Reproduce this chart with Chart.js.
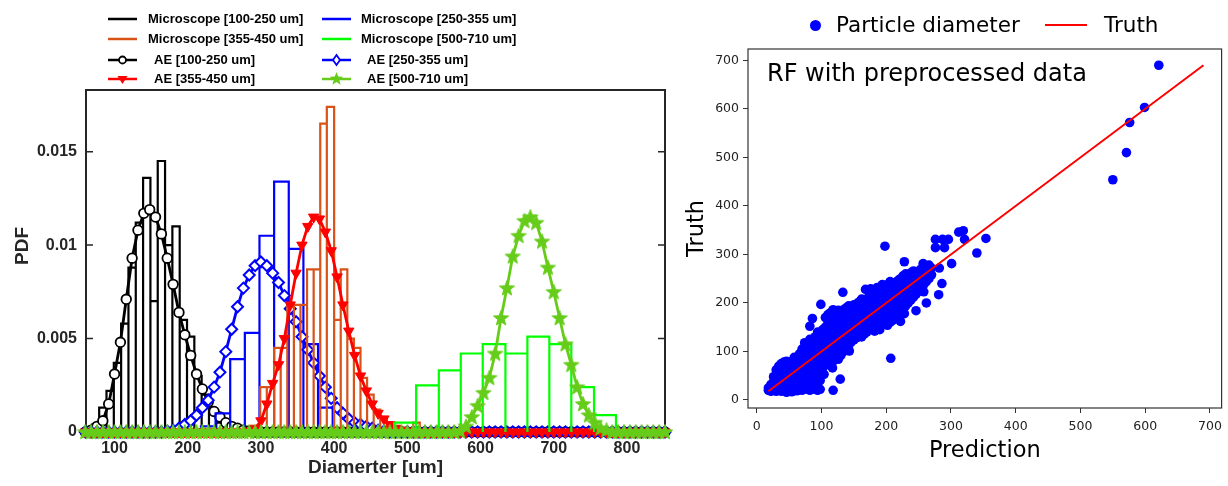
<!DOCTYPE html>
<html>
<head>
<meta charset="utf-8">
<script src="https://cdn.jsdelivr.net/npm/chart.js@4.4.1/dist/chart.umd.min.js"></script>
<style>
html,body{margin:0;padding:0;background:#fff;overflow:hidden;}
#wrap{position:relative;width:1228px;height:486px;overflow:hidden;background:#fff;}
canvas{position:absolute;top:0;}
#c1{left:0;}
#c2{left:680px;}
.lbl{position:absolute;white-space:nowrap;}
.lgL{position:absolute;font-family:"Liberation Sans",Arial,sans-serif;font-weight:bold;font-size:13px;line-height:16px;color:#000;white-space:nowrap;}
.mpl{font-family:"DejaVu Sans",sans-serif;color:#000;}
</style>
</head>
<body>
<div id="wrap">
<canvas id="c1" width="680" height="486"></canvas>
<canvas id="c2" width="548" height="486"></canvas>
<div id="legL"></div>
<div class="lbl" style="left:22px;top:246px;transform:translate(-50%,-50%) rotate(-90deg);font:bold 19px 'Liberation Sans',Arial,sans-serif;color:#262626;">PDF</div>
<div class="lbl mpl" style="left:767px;top:59px;font-size:24px;line-height:28px;">RF with preprocessed data</div>
<div class="lbl" style="left:810px;top:20px;width:11px;height:11px;border-radius:50%;background:#0000ff;"></div>
<div class="lbl mpl" style="left:836px;top:12px;font-size:21.5px;line-height:26px;">Particle diameter</div>
<div class="lbl" style="left:1045px;top:24px;width:42px;height:2px;background:#ff0000;"></div>
<div class="lbl mpl" style="left:1104px;top:12px;font-size:21.5px;line-height:26px;">Truth</div>
</div>
<script>
// ---------------- LEFT PANEL DATA ----------------
const xTicksL = [100, 200, 300, 400, 500, 600, 700, 800];
const yTicksL = [0, 0.005, 0.01, 0.015];
const yTickLabelsL = ['0', '0.005', '0.01', '0.015'];

// diameter grid of AE curves (um)
const aeX = [60,68,76,84,92,100,108,116,124,132,140,148,156,164,172,180,188,196,204,212,
  220,228,236,244,252,260,268,276,284,292,300,308,316,324,332,340,348,356,364,372,
  380,388,396,404,412,420,428,436,444,452,460,468,476,484,492,500,508,516,524,532,
  540,548,556,564,572,580,588,596,604,612,620,628,636,644,652,660,668,676,684,692,
  700,708,716,724,732,740,748,756,764,772,780,788,796,804,812,820,828,836,844,852];

const ae100_250 = [0,0.0001,0.0003,0.0006,0.0015,0.0031,0.0048,0.0071,0.0093,0.0108,
  0.0117,0.0119,0.0115,0.0106,0.0093,0.0079,0.0064,0.0052,0.0041,0.0031,
  0.0023,0.0016,0.0011,0.0008,0.0005,0.0003,0.0002,0.0001,0.00005,0,
  0,0,0,0,0,0,0,0,0,0, 0,0,0,0,0,0,0,0,0,0, 0,0,0,0,0,0,0,0,0,0,
  0,0,0,0,0,0,0,0,0,0, 0,0,0,0,0,0,0,0,0,0, 0,0,0,0,0,0,0,0,0,0, 0,0,0,0,0,0,0,0,0,0];

const ae250_355 = [0,0,0,0,0,0,0,0,0,0, 0,0,0,0,0.00005,0.0001,0.0002,0.0004,0.0006,0.0009,
  0.0013,0.0017,0.0024,0.0032,0.0043,0.0055,0.0067,0.0077,0.0084,0.0089,
  0.0091,0.0089,0.0085,0.0080,0.0073,0.0066,0.0059,0.0051,0.0044,0.0037,
  0.0030,0.0024,0.0018,0.0013,0.0010,0.0007,0.0005,0.0004,0.0003,0.0002,
  0.0001,0.00005,0,0,0,0,0,0,0,0, 0,0,0,0,0,0,0,0,0,0, 0,0,0,0,0,0,0,0,0,0,
  0,0,0,0,0,0,0,0,0,0, 0,0,0,0,0,0,0,0,0,0];

const ae355_450 = [0,0,0,0,0,0,0,0,0,0, 0,0,0,0,0,0,0,0,0,0, 0,0,0,0,0,0,0,0,0.00005,0.0002,
  0.0006,0.0015,0.0026,0.0036,0.0050,0.0068,0.0085,0.0100,0.0110,0.0115,
  0.0114,0.0107,0.0097,0.0083,0.0068,0.0054,0.0041,0.0030,0.0022,0.0015,
  0.0010,0.0007,0.0004,0.0002,0.0001,0.00005,0,0,0,0, 0,0,0,0,0,0,0,0,0,0,
  0,0,0,0,0,0,0,0,0,0, 0,0,0,0,0,0,0,0,0,0, 0,0,0,0,0,0,0,0,0,0];

const ae500_710 = [0,0,0,0,0,0,0,0,0,0, 0,0,0,0,0,0,0,0,0,0, 0,0,0,0,0,0,0,0,0,0,
  0,0,0,0,0,0,0,0,0,0, 0,0,0,0,0,0,0,0,0,0, 0,0,0,0,0,0,0,0,0,0, 0,0,0,0,0.00005,0.0003,0.0008,0.0014,0.0021,0.0029,
  0.0042,0.0061,0.0077,0.0094,0.0105,0.0113,0.0115,0.0112,0.0102,0.0088,
  0.0075,0.0061,0.0047,0.0036,0.0024,0.0015,0.0009,0.0005,0.0002,0.0001,
  0,0,0,0,0,0,0,0,0,0];

// microscope histograms: bin edges (um) and pdf heights
const mic100_250Edges = [69,79,89,99,109,119,129,139,149,159,169,179,189,199,209,219,229,239,249,259];
const mic100_250Pdf = [0.0004,0.0013,0.0022,0.0037,0.0058,0.0088,0.0112,0.0136,0.0070,0.0145,
  0.0100,0.0110,0.0060,0.0051,0.0030,0.0020,0.0010,0.0005,0.0002];
const mic250_355Edges = [218,238,258,278,298,318,338,358,378,398];
const mic250_355Pdf = [0.0003,0.0010,0.0039,0.0053,0.0105,0.0134,0.0098,0.0047,0.0013];
const mic355_450Edges = [299,308,318,327,336,345,354,363,372,381,390,400,409,418,427,436,445,454,463,472,481,490,499,508,517,526];
const mic355_450Pdf = [0.0024,0.0024,0.0045,0.0045,0.0068,0.0068,0.0068,0.0087,0.0087,0.0165,
  0.0174,0.0060,0.0087,0.0050,0.0045,0.0029,0.0020,0.0012,0.0008,0.0004,0.0003,0.0002,0.0001,0.0005,0.0001];
const mic500_710Edges = [482,512,543,573,603,634,664,694,724,755,785];
const mic500_710Pdf = [0.0005,0.0025,0.0033,0.0042,0.0047,0.0042,0.0051,0.0047,0.0024,0.0009];

// ---------------- RIGHT PANEL DATA ----------------
const xTicksR = [0, 100, 200, 300, 400, 500, 600, 700];
const yTicksR = [0, 100, 200, 300, 400, 500, 600, 700];
const truthLineX = [18, 690];
const truthLineY = [18, 690];
// [prediction, truth]
const particles = [
 [18,20],[18,25],[22,18],[22,26],[22,32],[26,20],[26,28],[26,38],[26,48],
 [30,18],[30,27],[30,36],[30,50],[30,62],[34,22],[34,32],[34,42],[34,55],[34,70],
 [38,18],[38,28],[38,38],[38,48],[38,62],[38,75],[42,22],[42,34],[42,45],[42,58],[42,78],
 [46,16],[46,28],[46,40],[46,52],[46,66],[46,80],[50,20],[50,32],[50,46],[50,58],[50,72],
 [54,17],[54,26],[54,38],[54,50],[54,64],[54,80],[58,22],[58,34],[58,46],[58,60],[58,74],[58,88],
 [62,19],[62,30],[62,42],[62,55],[62,68],[62,82],[66,24],[66,36],[66,50],[66,62],[66,76],[66,95],
 [70,20],[70,30],[70,44],[70,56],[70,70],[70,86],[70,105],[74,26],[74,40],[74,52],[74,66],[74,80],[74,95],[74,118],
 [78,22],[78,34],[78,48],[78,62],[78,76],[78,90],[78,108],
 [82,20],[82,30],[82,44],[82,58],[82,72],[82,88],[82,102],[82,125],[82,152],
 [86,24],[86,40],[86,56],[86,70],[86,84],[86,100],[86,116],[86,168],
 [90,22],[90,36],[90,52],[90,68],[90,82],[90,96],[90,112],[90,130],
 [94,20],[94,46],[94,62],[94,78],[94,92],[94,108],[94,124],[94,140],
 [98,22],[98,40],[98,56],[98,72],[98,88],[98,104],[98,118],[98,135],[99,197],
 [102,66],[102,82],[102,98],[102,112],[102,128],[102,145],[104,53],
 [106,72],[106,88],[106,104],[106,118],[106,134],[106,150],[106,170],
 [110,78],[110,94],[110,110],[110,124],[110,140],[110,158],[110,176],
 [114,86],[114,100],[114,116],[114,130],[114,146],[114,162],[114,180],
 [118,20],[117,66],[118,80],[118,96],[118,110],[118,124],[118,138],[118,152],[118,168],[118,186],
 [122,90],[122,104],[122,118],[122,132],[122,146],[122,160],[122,176],
 [126,84],[126,98],[126,112],[126,126],[126,140],[126,154],[126,170],[126,185],
 [129,43],[130,92],[130,106],[130,120],[130,134],[130,148],[130,162],[130,178],
 [134,100],[134,114],[134,128],[134,142],[134,156],[134,170],[134,186],[133,222],
 [138,105],[138,118],[138,132],[138,146],[138,160],[138,174],[138,190],
 [143,101],[142,112],[142,126],[142,140],[142,154],[142,168],[142,182],[142,194],
 [146,120],[146,134],[146,148],[146,162],[146,176],[146,190],
 [150,124],[150,138],[150,152],[150,166],[150,180],[150,196],
 [154,128],[154,142],[154,156],[154,170],[154,184],[154,198],
 [158,132],[158,146],[158,160],[158,174],[158,188],[158,202],
 [162,130],[162,140],[162,154],[162,168],[162,182],[162,196],[162,208],
 [166,136],[166,148],[166,162],[166,176],[166,190],[166,204],[168,228],
 [170,140],[170,152],[170,166],[170,180],[170,194],[170,208],[176,229],
 [174,146],[174,160],[174,174],[174,188],[174,202],[174,216],
 [178,150],[178,164],[178,178],[178,192],[178,206],[178,220],
 [182,142],[182,156],[182,170],[182,184],[182,198],[182,212],[182,226],
 [186,148],[186,162],[186,176],[186,190],[186,204],[186,218],[186,232],
 [190,145],[190,160],[190,174],[190,188],[190,202],[190,216],[190,230],
 [194,156],[194,170],[194,184],[194,198],[194,212],[194,226],[194,238],
 [198,160],[198,174],[198,188],[198,202],[198,216],[198,230],[198,317],
 [202,154],[202,168],[202,182],[202,196],[202,210],[202,224],[202,238],
 [207,86],[206,160],[206,176],[206,190],[206,204],[206,218],[206,232],[206,244],
 [210,164],[210,180],[210,194],[210,208],[210,222],[210,236],
 [214,170],[214,186],[214,200],[214,214],[214,228],[214,242],
 [218,176],[218,190],[218,204],[218,218],[218,232],[218,246],
 [222,162],[222,182],[222,196],[222,210],[222,224],[222,238],[222,250],
 [226,188],[226,202],[226,216],[226,230],[226,244],[226,256],[228,285],[228,178],
 [230,194],[230,208],[230,222],[230,236],[230,250],[230,260],
 [234,200],[234,214],[234,228],[234,242],[234,256],[238,206],[238,220],[238,234],[238,248],[238,262],
 [242,212],[242,226],[242,240],[242,254],[242,266],[246,184],[246,218],[246,232],[246,246],[246,260],
 [250,224],[250,238],[250,252],[250,266],[254,232],[254,246],[254,260],[254,270],
 [258,223],[258,238],[258,252],[258,266],[257,281],[262,200],[262,244],[262,258],[262,275],
 [266,250],[266,264],[266,278],[270,258],[270,272],
 [276,331],[276,314],[287,331],[290,314],[296,331],[282,272],[286,240],[281,217],[301,281],
 [312,346],[319,349],[321,331],[340,303],[354,333],
 [550,454],[571,510],[576,572],[599,603],[621,690]
];

// ---------------- HELPERS ----------------
function histOutline(edges, pdf) {
  const pts = [];
  for (let i = 0; i < pdf.length; i++) {
    pts.push({x: edges[i], y: 0}, {x: edges[i], y: pdf[i]}, {x: edges[i+1], y: pdf[i]}, {x: edges[i+1], y: 0});
  }
  return pts;
}
function curve(xs, ys) { return xs.map((x, i) => ({x: x, y: ys[i]})); }
function starPath(g, cx, cy, r) {
  g.beginPath();
  for (let k = 0; k < 10; k++) {
    const rad = k % 2 === 0 ? r : r * 0.42;
    const a = -Math.PI / 2 + k * Math.PI / 5;
    const px = cx + rad * Math.cos(a), py = cy + rad * Math.sin(a);
    if (k === 0) g.moveTo(px, py); else g.lineTo(px, py);
  }
  g.closePath();
}
function makeStar(r, color) {
  const c = document.createElement('canvas');
  const s = Math.ceil(r * 2 + 4);
  c.width = s; c.height = s;
  const g = c.getContext('2d');
  starPath(g, s / 2, s / 2 + 0.5, r);
  g.fillStyle = color; g.fill();
  g.lineWidth = 1; g.strokeStyle = color; g.stroke();
  return c;
}

const C = {
  black: '#000000', blue: '#0000ff', orange: '#d95319', green: '#00ff00',
  red: '#ff0000', aeGreen: '#66cc1a'
};
const starImg = makeStar(8, C.aeGreen);

// ---------------- LEFT LEGEND (HTML) ----------------
const legendItems = [
  {col: 0, row: 0, text: 'Microscope [100-250 um]', color: C.black, marker: null},
  {col: 1, row: 0, text: 'Microscope [250-355 um]', color: C.blue, marker: null},
  {col: 0, row: 1, text: 'Microscope [355-450 um]', color: C.orange, marker: null},
  {col: 1, row: 1, text: 'Microscope [500-710 um]', color: C.green, marker: null},
  {col: 0, row: 2, text: 'AE [100-250 um]', color: C.black, marker: 'circle'},
  {col: 1, row: 2, text: 'AE [250-355 um]', color: C.blue, marker: 'diamond'},
  {col: 0, row: 3, text: 'AE [355-450 um]', color: C.red, marker: 'tri'},
  {col: 1, row: 3, text: 'AE [500-710 um]', color: C.aeGreen, marker: 'star'}
];
(function buildLegend() {
  const host = document.getElementById('legL');
  const colLine = [108, 322], colText = [148, 361], rowY = [19, 39, 60, 79];
  legendItems.forEach(it => {
    const cy = rowY[it.row];
    const lx = colLine[it.col];
    const cv = document.createElement('canvas');
    cv.width = 34; cv.height = 16;
    cv.style.position = 'absolute'; cv.style.left = (lx - 2) + 'px'; cv.style.top = (cy - 8) + 'px';
    const g = cv.getContext('2d');
    g.strokeStyle = it.color; g.lineWidth = 2.5;
    g.beginPath(); g.moveTo(2, 8); g.lineTo(31, 8); g.stroke();
    const mx = 16.5, my = 8;
    if (it.marker === 'circle') {
      g.beginPath(); g.arc(mx, my, 3.5, 0, Math.PI * 2); g.fillStyle = '#fff'; g.fill(); g.lineWidth = 1.8; g.stroke();
    } else if (it.marker === 'diamond') {
      g.beginPath(); g.moveTo(mx, my - 5); g.lineTo(mx + 3.5, my); g.lineTo(mx, my + 5); g.lineTo(mx - 3.5, my); g.closePath();
      g.fillStyle = '#fff'; g.fill(); g.lineWidth = 1.8; g.stroke();
    } else if (it.marker === 'tri') {
      g.beginPath(); g.moveTo(mx - 5, my - 3); g.lineTo(mx + 5, my - 3); g.lineTo(mx, my + 5); g.closePath();
      g.fillStyle = it.color; g.fill();
    } else if (it.marker === 'star') {
      starPath(g, mx, my, 7); g.fillStyle = it.color; g.fill();
    }
    host.appendChild(cv);
    const sp = document.createElement('div');
    sp.className = 'lgL';
    sp.textContent = it.text;
    sp.style.left = (colText[it.col] + (it.marker ? 6 : 0)) + 'px';
    sp.style.top = (cy - 8) + 'px';
    host.appendChild(sp);
  });
})();

// ---------------- PLUGINS ----------------
const boxLeft = {
  id: 'boxLeft',
  beforeDatasetsDraw(chart) {
    const {ctx, chartArea: a, scales} = chart;
    ctx.save();
    ctx.strokeStyle = '#262626'; ctx.lineWidth = 2;
    ctx.strokeRect(a.left, a.top, a.right - a.left, a.bottom - a.top);
    ctx.lineWidth = 1.5;
    yTicksL.forEach(v => {
      const y = scales.y.getPixelForValue(v);
      ctx.beginPath();
      ctx.moveTo(a.left, y); ctx.lineTo(a.left + 7, y);
      ctx.moveTo(a.right, y); ctx.lineTo(a.right - 7, y);
      ctx.stroke();
    });
    ctx.restore();
  }
};
const boxRight = {
  id: 'boxRight',
  afterDatasetsDraw(chart) {
    const {ctx, chartArea: a} = chart;
    ctx.save();
    ctx.strokeStyle = '#333'; ctx.lineWidth = 1.2;
    ctx.strokeRect(a.left, a.top, a.right - a.left, a.bottom - a.top);
    ctx.restore();
  }
};

// ---------------- LEFT CHART ----------------
const boldFont = (s) => ({family: "'Liberation Sans', Arial, sans-serif", weight: 'bold', size: s});
new Chart(document.getElementById('c1'), {
  type: 'line',
  data: {
    datasets: [
      {label: 'AE [500-710 um]', data: curve(aeX, ae500_710), borderColor: C.aeGreen, borderWidth: 2.8,
        pointStyle: starImg, pointRadius: 8, clip: false, order: 0},
      {label: 'Microscope [500-710 um]', data: histOutline(mic500_710Edges, mic500_710Pdf), borderColor: C.green,
        borderWidth: 2.2, pointRadius: 0, order: 1},
      {label: 'AE [355-450 um]', data: curve(aeX, ae355_450), borderColor: C.red, borderWidth: 2.8,
        pointStyle: 'triangle', rotation: 180, pointRadius: 6, backgroundColor: C.red, pointBorderColor: C.red,
        pointBorderWidth: 1, clip: false, order: 2},
      {label: 'Microscope [355-450 um]', data: histOutline(mic355_450Edges, mic355_450Pdf), borderColor: C.orange,
        borderWidth: 2.2, pointRadius: 0, order: 3},
      {label: 'AE [250-355 um]', data: curve(aeX, ae250_355), borderColor: C.blue, borderWidth: 2.8,
        pointStyle: 'rectRot', pointRadius: 5.5, backgroundColor: '#ffffff', pointBorderColor: C.blue,
        pointBorderWidth: 2, clip: false, order: 4},
      {label: 'Microscope [250-355 um]', data: histOutline(mic250_355Edges, mic250_355Pdf), borderColor: C.blue,
        borderWidth: 2.2, pointRadius: 0, order: 5},
      {label: 'AE [100-250 um]', data: curve(aeX, ae100_250), borderColor: C.black, borderWidth: 2.8,
        pointStyle: 'circle', pointRadius: 4.8, backgroundColor: '#ffffff', pointBorderColor: C.black,
        pointBorderWidth: 1.8, clip: false, order: 6},
      {label: 'Microscope [100-250 um]', data: histOutline(mic100_250Edges, mic100_250Pdf), borderColor: C.black,
        borderWidth: 2.2, pointRadius: 0, order: 7}
    ]
  },
  options: {
    responsive: false, animation: false, devicePixelRatio: 1,
    layout: {padding: {left: 0, right: 15, top: 90, bottom: 0}},
    plugins: {legend: {display: false}, tooltip: {enabled: false}},
    elements: {line: {tension: 0, borderJoinStyle: 'miter'}},
    scales: {
      x: {
        type: 'linear', min: 61, max: 852,
        afterBuildTicks: s => { s.ticks = xTicksL.map(v => ({value: v})); },
        afterFit: s => { s.height = 54; },
        grid: {display: false, drawTicks: false}, border: {display: false},
        ticks: {font: boldFont(16), color: '#262626', padding: 7, maxRotation: 0, autoSkip: false},
        title: {display: true, text: 'Diamerter [um]', font: boldFont(19), color: '#262626', padding: {top: 0, bottom: 7}}
      },
      y: {
        type: 'linear', min: 0, max: 0.0183,
        afterBuildTicks: s => { s.ticks = yTicksL.map(v => ({value: v})); },
        afterFit: s => { s.width = 86; },
        grid: {display: false, drawTicks: false}, border: {display: false},
        ticks: {font: boldFont(16), color: '#262626', padding: 9, callback: (v, i) => yTickLabelsL[i]}
      }
    }
  },
  plugins: [boxLeft]
});

// ---------------- RIGHT CHART ----------------
const mplFont = (s) => ({family: "'DejaVu Sans', sans-serif", size: s});
new Chart(document.getElementById('c2'), {
  type: 'scatter',
  data: {
    datasets: [
      {type: 'line', label: 'Truth', data: curve(truthLineX, truthLineY), borderColor: C.red, borderWidth: 2,
        pointRadius: 0, order: 0},
      {label: 'Particle diameter', data: particles.map(p => ({x: p[0], y: p[1]})), backgroundColor: C.blue,
        pointRadius: 4.8, pointBorderWidth: 0, borderWidth: 0, order: 1}
    ]
  },
  options: {
    responsive: false, animation: false, devicePixelRatio: 1,
    layout: {padding: {left: 0, right: 3, top: 49, bottom: 0}},
    plugins: {legend: {display: false}, tooltip: {enabled: false}},
    scales: {
      x: {
        type: 'linear', min: -13.5, max: 718,
        afterBuildTicks: s => { s.ticks = xTicksR.map(v => ({value: v})); },
        afterFit: s => { s.height = 78; },
        grid: {display: true, drawOnChartArea: false, drawTicks: true, tickLength: 5, color: '#333', lineWidth: 1},
        border: {display: false},
        ticks: {font: mplFont(12.5), color: '#222', padding: 6, maxRotation: 0, autoSkip: false},
        title: {display: true, text: 'Prediction', font: mplFont(22.5), color: '#000', padding: {top: 0, bottom: 21}}
      },
      y: {
        type: 'linear', min: -16.5, max: 723.5,
        afterBuildTicks: s => { s.ticks = yTicksR.map(v => ({value: v})); },
        afterFit: s => { s.width = 68; },
        grid: {display: true, drawOnChartArea: false, drawTicks: true, tickLength: 5, color: '#333', lineWidth: 1},
        border: {display: false},
        ticks: {font: mplFont(12.5), color: '#222', padding: 4},
        title: {display: true, text: 'Truth', font: mplFont(22.5), color: '#000', padding: {top: 4, bottom: 0}}
      }
    }
  },
  plugins: [boxRight]
});
</script>
</body>
</html>
